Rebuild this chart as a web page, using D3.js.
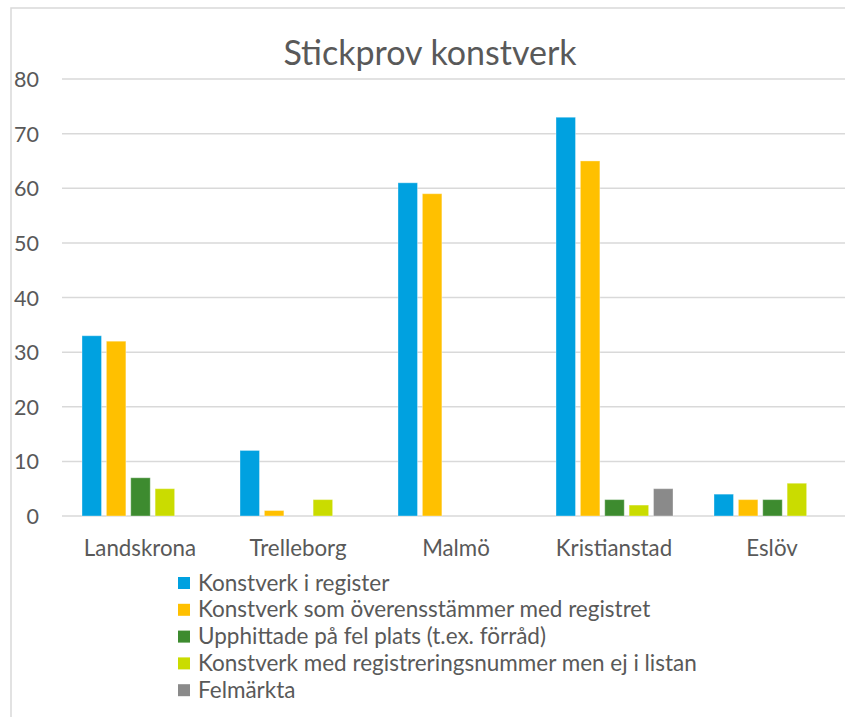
<!DOCTYPE html>
<html>
<head>
<meta charset="utf-8">
<script src="https://cdn.jsdelivr.net/npm/d3@7"></script>
<style>
  body { margin: 0; background: #fff; }
  text { font-family: Lato, "Open Sans", sans-serif; fill: #595959; }
</style>
</head>
<body>
<div id="chart"></div>
<script>
var categories = ["Landskrona", "Trelleborg", "Malmö", "Kristianstad", "Eslöv"];
var seriesNames = [
  "Konstverk i register",
  "Konstverk som överensstämmer med registret",
  "Upphittade på fel plats (t.ex. förråd)",
  "Konstverk med registreringsnummer men ej i listan",
  "Felmärkta"
];
var seriesColors = ["#00a1e0", "#ffc000", "#3d8b2f", "#cadc00", "#8a8a8a"];
var inRegister   = [33, 12, 61, 73, 4];
var matching     = [32, 1, 59, 65, 3];
var wrongPlace   = [7, 0, 0, 3, 3];
var notInList    = [5, 3, 0, 2, 6];
var mislabelled  = [0, 0, 0, 5, 0];
var yTicks = [0, 10, 20, 30, 40, 50, 60, 70, 80];

var allSeries = [inRegister, matching, wrongPlace, notInList, mislabelled];

var size = {
  width: 845, height: 717,
  left: 62, right: 852, top: 79, bottom: 516
};

var svg = d3.select("#chart").append("svg")
  .attr("width", size.width)
  .attr("height", size.height);

// chart border
svg.append("rect")
  .attr("x", 11).attr("y", 8)
  .attr("width", 900).attr("height", 800)
  .attr("fill", "none")
  .attr("stroke", "#d9d9d9")
  .attr("stroke-width", 1.5);

var x0 = d3.scaleBand().domain(categories).range([size.left, size.right]);
var x1 = d3.scaleBand().domain(d3.range(5)).range([20, 20 + 117]).paddingInner(0.2);
var y = d3.scaleLinear().domain([0, 80]).range([size.bottom, size.top]);

// gridlines
svg.append("g").selectAll("line")
  .data(yTicks)
  .enter().append("line")
  .attr("x1", size.left).attr("x2", size.width)
  .attr("y1", function(d){ return y(d); })
  .attr("y2", function(d){ return y(d); })
  .attr("stroke", "#d9d9d9")
  .attr("stroke-width", 1.5);

// y labels
svg.append("g").selectAll("text")
  .data(yTicks)
  .enter().append("text")
  .attr("x", 39)
  .attr("y", function(d){ return y(d) + 8; })
  .attr("text-anchor", "end")
  .style("font-size", "21.5px")
  .text(function(d){ return d; });

// bars
var groups = svg.append("g").selectAll("g")
  .data(categories)
  .enter().append("g")
  .attr("transform", function(d){ return "translate(" + x0(d) + ",0)"; });

groups.selectAll("rect")
  .data(function(d, i){
    return allSeries.map(function(s, k){ return {k: k, v: s[i]}; });
  })
  .enter().append("rect")
  .filter(function(d){ return d.v > 0; })
  .attr("x", function(d){ return x1(d.k); })
  .attr("width", x1.bandwidth())
  .attr("y", function(d){ return y(d.v); })
  .attr("height", function(d){ return y(0) - y(d.v); })
  .attr("fill", function(d){ return seriesColors[d.k]; })
  .attr("stroke", "#ffffff")
  .attr("stroke-opacity", 0.35)
  .attr("stroke-width", 1);

// category labels
svg.append("g").selectAll("text")
  .data(categories)
  .enter().append("text")
  .attr("x", function(d){ return x0(d) + x0.bandwidth() / 2 - 1; })
  .attr("y", 556)
  .attr("text-anchor", "middle")
  .style("font-size", "22.3px")
  .text(function(d){ return d; });

// title
svg.append("text")
  .attr("x", 430)
  .attr("y", 65)
  .attr("text-anchor", "middle")
  .style("font-size", "34px")
  .text("Stickprov konstverk");

// legend
var legend = svg.append("g").selectAll("g")
  .data(seriesNames)
  .enter().append("g")
  .attr("transform", function(d, i){ return "translate(178," + (583 + i * 26.8) + ")"; });

legend.append("rect")
  .attr("x", 0).attr("y", -6)
  .attr("width", 12).attr("height", 12)
  .attr("fill", function(d, i){ return seriesColors[i]; });

legend.append("text")
  .attr("x", 20)
  .attr("y", 7.5)
  .style("font-size", "22.5px")
  .text(function(d){ return d; });
</script>
</body>
</html>
